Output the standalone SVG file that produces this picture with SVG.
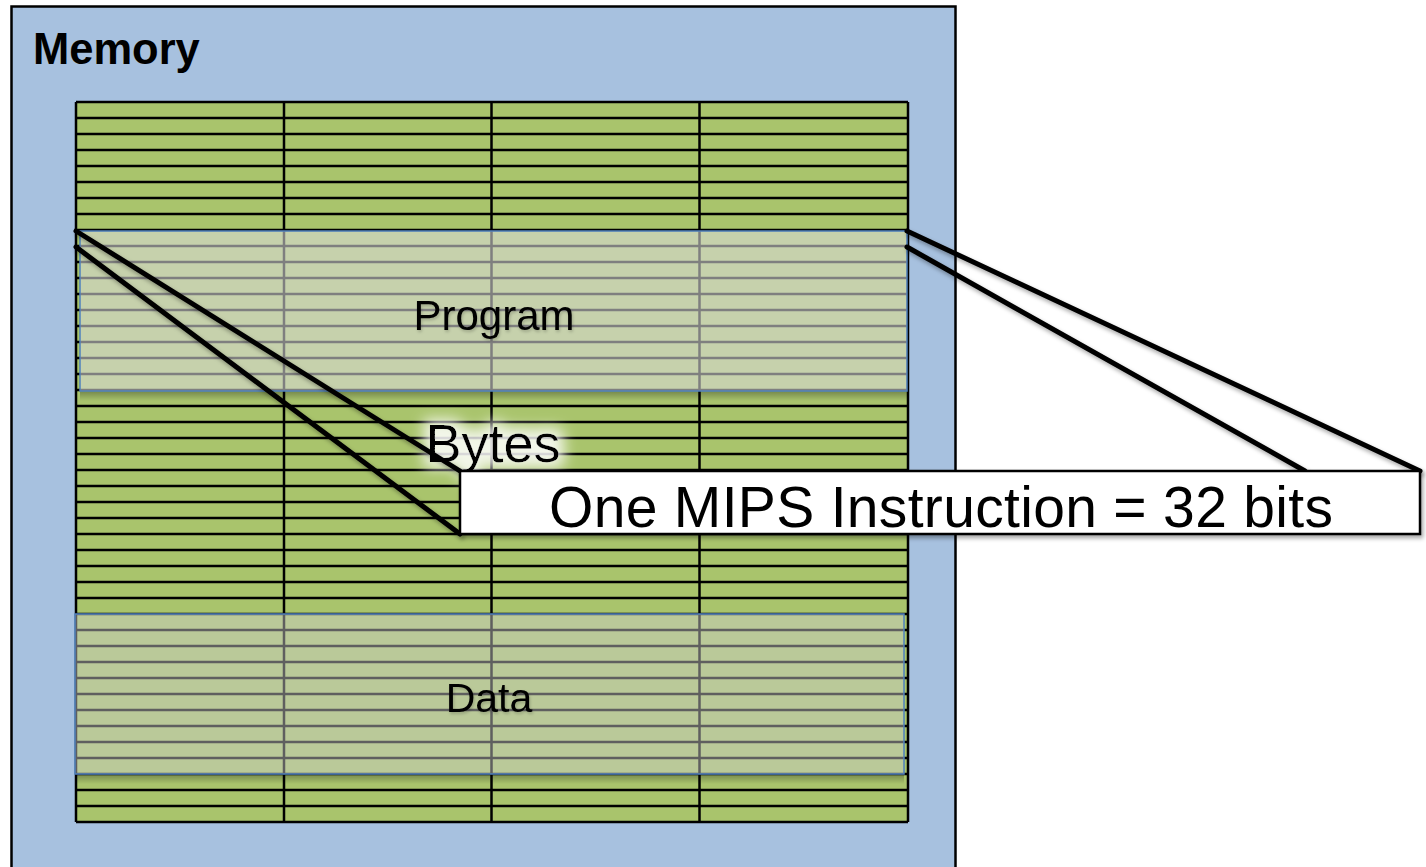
<svg xmlns="http://www.w3.org/2000/svg" width="1426" height="867" viewBox="0 0 1426 867">
<style>
.lbl{font-family:"Liberation Sans",Arial,sans-serif;fill:#000}
.gridline{stroke:#000;stroke-width:2.5;fill:none}
.conn{stroke:#000;stroke-width:5;fill:none;stroke-linecap:round}
.ovl{stroke:#4f81bd;stroke-width:1.5}
</style>
<defs>
<filter id="sh" x="-10%" y="-10%" width="130%" height="130%">
<feDropShadow dx="2" dy="3" stdDeviation="2" flood-color="#000" flood-opacity="0.35"/>
</filter>
<filter id="tsh" x="-10%" y="-20%" width="130%" height="150%">
<feDropShadow dx="1" dy="2" stdDeviation="1.5" flood-color="#000" flood-opacity="0.2"/>
</filter>
<filter id="glow" x="-30%" y="-40%" width="160%" height="180%">
<feMorphology in="SourceAlpha" operator="dilate" radius="6" result="d"/>
<feGaussianBlur in="d" stdDeviation="7" result="b"/>
<feFlood flood-color="#ffffff" flood-opacity="0.85"/>
<feComposite in2="b" operator="in" result="g"/>
<feMerge><feMergeNode in="g"/><feMergeNode in="SourceGraphic"/></feMerge>
</filter>
<linearGradient id="shb" x1="0" y1="0" x2="0" y2="1">
<stop offset="0" stop-color="#000" stop-opacity="0.28"/>
<stop offset="1" stop-color="#000" stop-opacity="0"/>
</linearGradient>
</defs>

<g id="memory">
<rect x="11.5" y="6.5" width="944" height="880" fill="#a7c1df" stroke="#000" stroke-width="2.5"/>
<text class="lbl" x="33" y="64" font-size="43.5" font-weight="bold">Memory</text>
</g>

<g id="grid">
<rect x="76" y="102" width="832" height="720" fill="#a9c46c"/>
<path class="gridline" d="M76 102H908M76 118H908M76 134H908M76 150H908M76 166H908M76 182H908M76 198H908M76 214H908M76 230H908M76 246H908M76 262H908M76 278H908M76 294H908M76 310H908M76 326H908M76 342H908M76 358H908M76 374H908M76 390H908M76 406H908M76 422H908M76 438H908M76 454H908M76 470H908M76 486H908M76 502H908M76 518H908M76 534H908M76 550H908M76 566H908M76 582H908M76 598H908M76 614H908M76 630H908M76 646H908M76 662H908M76 678H908M76 694H908M76 710H908M76 726H908M76 742H908M76 758H908M76 774H908M76 790H908M76 806H908M76 822H908"/>
<path class="gridline" d="M76 102V822M284 102V822M491.5 102V822M699.5 102V822M908 102V822"/>
</g>

<g id="program">
<rect x="80" y="392" width="827" height="9" fill="url(#shb)"/>
<rect class="ovl" x="80" y="231" width="827" height="160" fill="#dbdbdb" fill-opacity="0.58"/>
<text class="lbl" x="494" y="330" font-size="42" text-anchor="middle" filter="url(#tsh)">Program</text>
</g>

<g id="data">
<rect x="75" y="775" width="829" height="9" fill="url(#shb)"/>
<rect class="ovl" x="75" y="614" width="829" height="160" fill="#d0d0d0" fill-opacity="0.46"/>
<text class="lbl" x="489" y="712" font-size="41" text-anchor="middle" filter="url(#tsh)">Data</text>
</g>

<g id="bytes">
<text class="lbl" x="493" y="462" font-size="54" text-anchor="middle" filter="url(#glow)">Bytes</text>
</g>

<g id="connectors" filter="url(#sh)">
<line class="conn" x1="76" y1="231" x2="460" y2="471"/>
<line class="conn" x1="76" y1="247" x2="460" y2="534"/>
<line class="conn" x1="907" y1="231" x2="1420" y2="471"/>
<line class="conn" x1="907" y1="247" x2="1305" y2="471"/>
</g>

<g id="instruction">
<rect x="460" y="471" width="960" height="63" fill="#fff" stroke="#000" stroke-width="2.5" filter="url(#sh)"/>
<text class="lbl" x="549" y="527" font-size="57" textLength="784" lengthAdjust="spacing">One MIPS Instruction = 32 bits</text>
</g>
</svg>
